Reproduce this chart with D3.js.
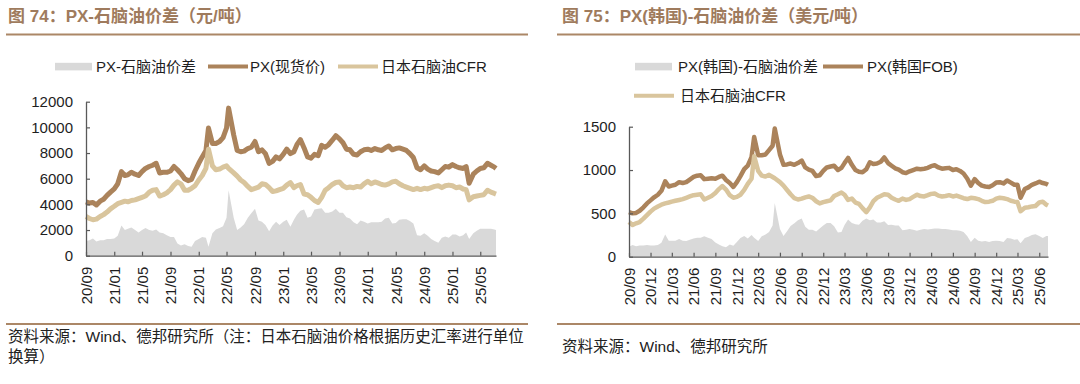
<!DOCTYPE html>
<html><head><meta charset="utf-8">
<script src="https://cdn.jsdelivr.net/npm/d3@7"></script>
<style>
body{margin:0;background:#fff;}
svg{display:block;font-family:"Liberation Sans",Arial,"Noto Sans CJK SC",sans-serif;}
</style></head><body>
<svg id="c" width="1080" height="384"></svg>
<script>
// ---------- DATA ----------
const dates = [
"2020-09-01","2020-09-16","2020-10-01","2020-10-16","2020-11-01","2020-11-16","2020-12-01","2020-12-16",
"2021-01-01","2021-01-16","2021-02-01","2021-02-16","2021-03-01","2021-03-16","2021-04-01","2021-04-16","2021-05-01","2021-05-16","2021-06-01","2021-06-16","2021-07-01","2021-07-16","2021-08-01","2021-08-16","2021-09-01","2021-09-16","2021-10-01","2021-10-16","2021-11-01","2021-11-16","2021-12-01","2021-12-16",
"2022-01-01","2022-01-16","2022-02-01","2022-02-12","2022-03-01","2022-03-16","2022-04-01","2022-04-16","2022-05-01","2022-05-10","2022-06-01","2022-06-16","2022-07-01","2022-07-16","2022-08-01","2022-08-16","2022-09-01","2022-09-16","2022-10-01","2022-10-16","2022-11-01","2022-11-16","2022-12-01","2022-12-16",
"2023-01-01","2023-01-16","2023-02-01","2023-02-16","2023-03-01","2023-03-16","2023-04-01","2023-04-16","2023-05-01","2023-05-16","2023-06-01","2023-06-16","2023-07-01","2023-07-16","2023-08-01","2023-08-16","2023-09-01","2023-09-16","2023-10-01","2023-10-16","2023-11-01","2023-11-16","2023-12-01","2023-12-16",
"2024-01-01","2024-01-16","2024-02-01","2024-02-16","2024-03-01","2024-03-16","2024-04-01","2024-04-16","2024-05-01","2024-05-16","2024-06-01","2024-06-16","2024-07-01","2024-07-16","2024-08-01","2024-08-16","2024-09-01","2024-09-16","2024-10-01","2024-10-16","2024-11-01","2024-11-16","2024-12-01","2024-12-16",
"2025-01-01","2025-01-16","2025-02-01","2025-02-16","2025-03-01","2025-03-14","2025-04-01","2025-04-16","2025-05-01","2025-05-16","2025-06-01","2025-06-16","2025-07-01","2025-07-08"];

// Left chart (元/吨)
const pxSpotCny = [
4200,4100,4150,3950,4250,4400,4700,4950,
5200,5600,6550,6250,6300,6500,6350,6250,6550,6800,6950,7050,7200,6450,6500,6500,6600,6950,6700,6400,6000,5850,5950,6600,
7200,7700,8200,9950,8750,8750,8900,9200,9950,11500,9400,8200,8100,8150,8350,8450,8900,8100,8250,7950,7200,7350,7700,7550,
7900,8300,7950,8100,8650,9050,8400,7700,7600,7900,7800,8600,8450,8650,9000,9350,9100,8800,8300,8250,7900,7850,8100,8250,
8300,8200,8350,8250,8200,8400,8550,8250,8350,8400,8300,8200,7950,7650,6850,6700,7000,6750,6600,6550,6450,6700,6950,6900,
7100,6950,6850,6800,6950,5650,6350,6600,6800,6850,7200,7050,6900,6800];
const naphthaCny = [
3050,2900,2800,2850,3050,3200,3400,3650,
3850,4050,4150,4250,4200,4300,4350,4450,4550,4650,4950,5100,5150,4650,4750,4900,5150,5500,5750,5600,5100,5100,5250,5450,
5900,6250,6800,8300,7000,6700,6750,6900,7000,6800,6450,6200,5900,5700,5400,5150,5250,5350,5600,5550,5300,5000,5050,5150,
5250,5500,5700,5300,5450,5550,4800,4750,4550,4300,4150,4550,5100,5300,5550,5700,5750,5450,5300,5350,5300,5400,5350,5600,
5800,5600,5750,5650,5550,5500,5600,5750,5800,5600,5450,5350,5250,5150,5250,5150,5250,5200,5300,5400,5450,5300,5450,5500,
5450,5300,5350,5200,5150,4350,4600,4650,4700,4750,5100,4950,4850,4800];
const spreadCny = [
1150,1200,1350,1100,1200,1200,1300,1300,
1350,1550,2350,2000,2100,2200,2000,1800,2000,2150,2000,1950,2050,1800,1750,1600,1450,1450,950,800,900,750,700,1150,
1300,1450,1400,700,1750,2050,2150,2300,2950,5100,2950,2000,2200,2450,2950,3300,3650,2750,2650,2400,1900,2350,2650,2400,
2650,2800,2250,2800,3200,3500,3600,2950,3050,3600,3650,3700,3350,3350,3450,3650,3350,3350,3000,2900,2600,2450,2750,2650,
2500,2600,2600,2600,2650,2900,2950,2500,2550,2800,2850,2850,2700,2500,1600,1550,1750,1550,1300,1150,1000,1400,1500,1400,
1650,1650,1500,1600,1800,1300,1750,1950,2100,2100,2100,2100,2050,2000];

// Right chart (美元/吨)
const pxKoreaUsd = [
515,500,505,530,570,615,650,685,
715,760,870,810,820,830,860,850,860,890,920,935,940,895,900,905,900,920,935,885,850,805,860,930,
1010,1050,1150,1380,1170,1170,1180,1230,1280,1480,1180,1060,1065,1075,1060,1080,1110,1030,1005,990,930,940,990,1030,
1040,1050,1000,1025,1080,1140,1060,1000,980,975,1010,1090,1070,1075,1095,1145,1080,1050,1020,1005,975,965,985,1000,
1015,1010,1015,1025,1045,1055,1030,1015,1020,1025,1000,1010,990,960,900,820,895,850,820,810,805,825,855,860,
845,880,855,830,830,680,780,800,830,845,865,850,840,830];
const naphthaUsd = [
400,365,385,400,440,480,520,555,
580,600,615,625,635,645,655,665,680,695,710,715,720,660,680,700,735,780,815,775,710,680,690,715,
770,840,900,1160,990,935,925,945,920,905,860,820,770,720,675,660,670,685,695,680,640,615,630,640,
650,700,720,740,715,655,670,625,610,560,515,570,640,680,700,720,715,680,660,645,670,655,665,690,
715,700,695,710,725,730,705,695,700,710,695,705,690,675,665,680,675,665,645,630,635,645,670,680,
675,665,645,635,630,525,565,570,580,585,625,635,600,590];
const spreadUsd = [
115,135,120,130,130,135,130,130,
135,160,255,185,185,185,205,185,180,195,210,220,220,235,220,205,165,140,120,110,140,125,170,215,
240,210,250,220,180,235,255,285,360,620,320,240,295,355,385,420,440,345,310,310,290,325,360,390,
390,350,280,285,365,430,390,375,370,415,440,420,430,395,395,410,365,370,360,360,305,310,320,310,
300,310,320,315,320,325,325,320,320,315,305,305,300,285,235,170,220,185,175,180,170,180,185,180,
170,215,210,195,200,155,215,230,250,260,240,215,240,240];

const leftXTickLabels = ["20/09","21/01","21/05","21/09","22/01","22/05","22/09","23/01","23/05","23/09","24/01","24/05","24/09","25/01","25/05"];
const rightXTickLabels = ["20/09","20/12","21/03","21/06","21/09","21/12","22/03","22/06","22/09","22/12","23/03","23/06","23/09","23/12","24/03","24/06","24/09","24/12","25/03","25/06"];
const leftYTicks = [0,2000,4000,6000,8000,10000,12000];
const rightYTicks = [0,500,1000,1500];

const leftTitle = "图 74：PX-石脑油价差（元/吨）";
const rightTitle = "图 75：PX(韩国)-石脑油价差（美元/吨）";
const leftLegend = ["PX-石脑油价差","PX(现货价)","日本石脑油CFR"];
const rightLegend = ["PX(韩国)-石脑油价差","PX(韩国FOB)","日本石脑油CFR"];
const leftSource = ["资料来源：Wind、德邦研究所（注：日本石脑油价格根据历史汇率进行单位","换算）"];
const rightSource = ["资料来源：Wind、德邦研究所"];

// ---------- STYLE ----------
const C_PX = "#ab835b", C_NAP = "#d9c59d", C_SPREAD = "#d9d9d9";
const C_TITLE = "#9f7b5d", C_RULE = "#ab8767", C_AXIS = "#595959", C_TEXT = "#1e1e1e";

const svg = d3.select("#c");
const parse = d3.timeParse("%Y-%m-%d");
const dt = dates.map(parse);
const tickDate = s => { const [yy, mm] = s.split("/"); return new Date(2000 + +yy, +mm - 1, 1); };

function drawChart(cfg) {
  const g = svg.append("g");
  g.append("text").attr("x", cfg.titleX).attr("y", 22).attr("fill", C_TITLE)
    .attr("font-size", 17).attr("font-weight", "bold").text(cfg.title);
  g.append("line").attr("x1", cfg.ruleX0).attr("x2", cfg.ruleX1).attr("y1", 34.5).attr("y2", 34.5)
    .attr("stroke", C_RULE).attr("stroke-width", 2);
  g.append("line").attr("x1", cfg.ruleX0).attr("x2", cfg.ruleX1).attr("y1", 324).attr("y2", 324)
    .attr("stroke", C_RULE).attr("stroke-width", 2);
  cfg.source.forEach((s, i) => {
    g.append("text").attr("x", cfg.titleX).attr("y", cfg.sourceY + i * 20).attr("fill", "#222")
      .attr("font-size", 15.5).text(s);
  });

  const x = d3.scaleTime().domain([dt[0], dt[dt.length - 1]]).range(cfg.xRange);
  const y = d3.scaleLinear().domain(cfg.yDomain).range(cfg.yRange);

  const area = d3.area().x((d, i) => x(dt[i])).y0(y(0)).y1(d => y(d));
  const line = d3.line().x((d, i) => x(dt[i])).y(d => y(d));

  g.append("path").datum(cfg.spread).attr("d", area).attr("fill", C_SPREAD);
  g.append("path").datum(cfg.px).attr("d", line).attr("fill", "none").attr("stroke", C_PX)
    .attr("stroke-width", cfg.lw).attr("stroke-linejoin", "round");
  g.append("path").datum(cfg.nap).attr("d", line).attr("fill", "none").attr("stroke", C_NAP)
    .attr("stroke-width", cfg.lw).attr("stroke-linejoin", "round");

  const ya = g.append("g").attr("transform", `translate(${cfg.xRange[0]},0)`)
    .call(d3.axisLeft(y).tickValues(cfg.yTicks).tickSize(-4).tickSizeOuter(0).tickPadding(13).tickFormat(d3.format("d")));
  const xa = g.append("g").attr("transform", `translate(0,${cfg.yRange[0]})`)
    .call(d3.axisBottom(x).tickValues(cfg.xTicks.map(tickDate)).tickSize(-4).tickSizeOuter(0)
      .tickFormat((d, i) => cfg.xTicks[i]));
  [ya, xa].forEach(a => {
    a.select(".domain").attr("stroke", C_AXIS).attr("stroke-width", 1.3);
    a.selectAll(".tick line").attr("stroke", C_AXIS).attr("stroke-width", 1.2);
    a.selectAll("text").attr("fill", C_TEXT).attr("font-size", 15)
      .attr("font-family", '"Liberation Sans",Arial,sans-serif');
  });
  xa.selectAll("text").attr("transform", "rotate(-90)").attr("x", -11).attr("y", 0)
    .attr("dy", "0.35em").attr("text-anchor", "end");

  const L = cfg.legend;
  g.append("rect").attr("x", L[0].x).attr("y", L[0].y - 3.8).attr("width", 37).attr("height", 7.6).attr("fill", C_SPREAD);
  g.append("line").attr("x1", L[1].x).attr("x2", L[1].x + 40).attr("y1", L[1].y).attr("y2", L[1].y)
    .attr("stroke", C_PX).attr("stroke-width", 4);
  g.append("line").attr("x1", L[2].x).attr("x2", L[2].x + 40).attr("y1", L[2].y).attr("y2", L[2].y)
    .attr("stroke", C_NAP).attr("stroke-width", 4);
  L.forEach((l, i) => {
    g.append("text").attr("x", l.tx).attr("y", l.y).attr("dy", "0.36em").attr("fill", C_TEXT)
      .attr("font-size", 15).text(cfg.legendText[i]);
  });
}

drawChart({
  title: leftTitle, titleX: 8, ruleX0: 6, ruleX1: 528, source: leftSource, sourceY: 342,
  xRange: [86, 496], yDomain: [0, 12000], yRange: [255.7, 101.7], yTicks: leftYTicks, xTicks: leftXTickLabels,
  px: pxSpotCny, nap: naphthaCny, spread: spreadCny, lw: 5,
  legendText: leftLegend,
  legend: [{x: 55, y: 66.6, tx: 96}, {x: 208, y: 66.6, tx: 250}, {x: 338, y: 66.6, tx: 381}]
});
drawChart({
  title: rightTitle, titleX: 562, ruleX0: 557, ruleX1: 1080, source: rightSource, sourceY: 352,
  xRange: [629, 1048], yDomain: [0, 1500], yRange: [256.7, 126.7], yTicks: rightYTicks, xTicks: rightXTickLabels,
  px: pxKoreaUsd, nap: naphthaUsd, spread: spreadUsd, lw: 4.5,
  legendText: rightLegend,
  legend: [{x: 635, y: 66.6, tx: 678}, {x: 823, y: 66.6, tx: 867}, {x: 634, y: 95.7, tx: 680}]
});
</script>
</body></html>
